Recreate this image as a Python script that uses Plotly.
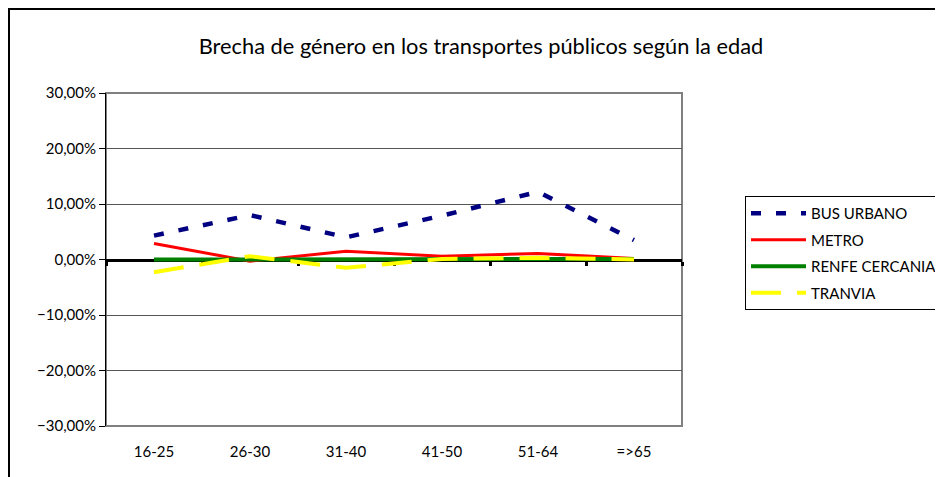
import plotly.graph_objects as go

# age groups on the category axis
edades = ["16-25", "26-30", "31-40", "41-50", "51-64", "=>65"]

# gender gap per transport mode (fraction, shown as %)
bus_urbano = [0.043, 0.080, 0.040, 0.079, 0.122, 0.035]
metro = [0.029, -0.003, 0.015, 0.006, 0.011, 0.002]
renfe_cercanias = [0.000, 0.000, 0.001, 0.001, 0.001, 0.001]
tranvia = [-0.023, 0.006, -0.015, 0.001, 0.003, 0.000]

y_ticks = [-0.3, -0.2, -0.1, 0.0, 0.1, 0.2, 0.3]

FONT = "Lato, Open Sans, sans-serif"

# the page body has an 8px margin, so the figure is drawn 8px smaller
W, H = 935, 469
L, T, R, B = 98, 85, 261, 51
PW, PH = W - L - R, H - T - B

fig = go.Figure()

fig.add_trace(go.Scatter(x=edades, y=bus_urbano, name="BUS URBANO", mode="lines",
                         legendgroup="bus",
                         line=dict(color="#000080", width=4.5, dash="10px,15px")))
fig.add_trace(go.Scatter(x=edades, y=metro, name="METRO", mode="lines",
                         legendgroup="metro",
                         line=dict(color="#FF0000", width=3)))
fig.add_trace(go.Scatter(x=edades, y=renfe_cercanias, name="RENFE CERCANIAS", mode="lines",
                         legendgroup="renfe",
                         line=dict(color="#008000", width=4)))
fig.add_trace(go.Scatter(x=edades, y=tranvia, name="TRANVIA", mode="lines",
                         legendgroup="tranvia",
                         line=dict(color="#FFFF00", width=4, dash="30px,16px")))

# dummy trace so the zero-crossing category axis gets drawn
fig.add_trace(go.Scatter(x=edades, y=[None] * len(edades), xaxis="x2", yaxis="y",
                         showlegend=False, hoverinfo="skip"))

fig.update_layout(
    width=W, height=H,
    margin=dict(l=L, r=R, t=T, b=B, autoexpand=False),
    paper_bgcolor="white", plot_bgcolor="white",
    separators=",.",
    font=dict(family=FONT, size=15, color="black"),
    title=dict(text="Brecha de género en los transportes públicos según la edad",
               x=473 / W, xref="container", xanchor="center",
               y=1 - 38 / H, yref="container", yanchor="middle",
               font=dict(family=FONT, size=21.8, color="black")),
    xaxis=dict(type="category", categoryorder="array", categoryarray=edades,
               range=[-0.5, 5.5], showgrid=False, zeroline=False, showline=False,
               ticks="", ticklabelstandoff=15, tickfont=dict(size=15)),
    xaxis2=dict(type="category", categoryorder="array", categoryarray=edades,
                range=[-0.5, 5.5], overlaying="x", anchor="free", position=0.5,
                showticklabels=False, showgrid=False, zeroline=False,
                showline=True, linecolor="black", linewidth=3,
                ticks="outside", tickson="boundaries", ticklen=4, tickwidth=3,
                tickcolor="black", layer="below traces"),
    yaxis=dict(range=[-0.3, 0.3], tickvals=y_ticks, tickformat=".2%",
               showgrid=True, gridcolor="#555555", gridwidth=1,
               zeroline=False, showline=True, linecolor="black", linewidth=1,
               ticks="outside", ticklen=6, tickcolor="black",
               tickfont=dict(size=15)),
    legend=dict(x=737 / W, y=1 - 188 / H, xref="container", yref="container",
                xanchor="left", yanchor="top",
                bordercolor="black", borderwidth=1, bgcolor="white",
                font=dict(family=FONT, size=15), tracegroupgap=4,
                itemwidth=55),
    showlegend=True,
)

# plot area frame (grey) and outer chart frame (black)
fig.add_shape(type="rect", xref="paper", yref="paper", x0=0, x1=1, y0=0, y1=1,
              line=dict(color="#808080", width=2), layer="below")
fig.add_shape(type="rect", xref="paper", yref="paper",
              x0=(1 - L) / PW, x1=1.6, y0=-0.3, y1=1 + (T - 1) / PH,
              line=dict(color="black", width=2), layer="below")

fig.write_html("out.html")
